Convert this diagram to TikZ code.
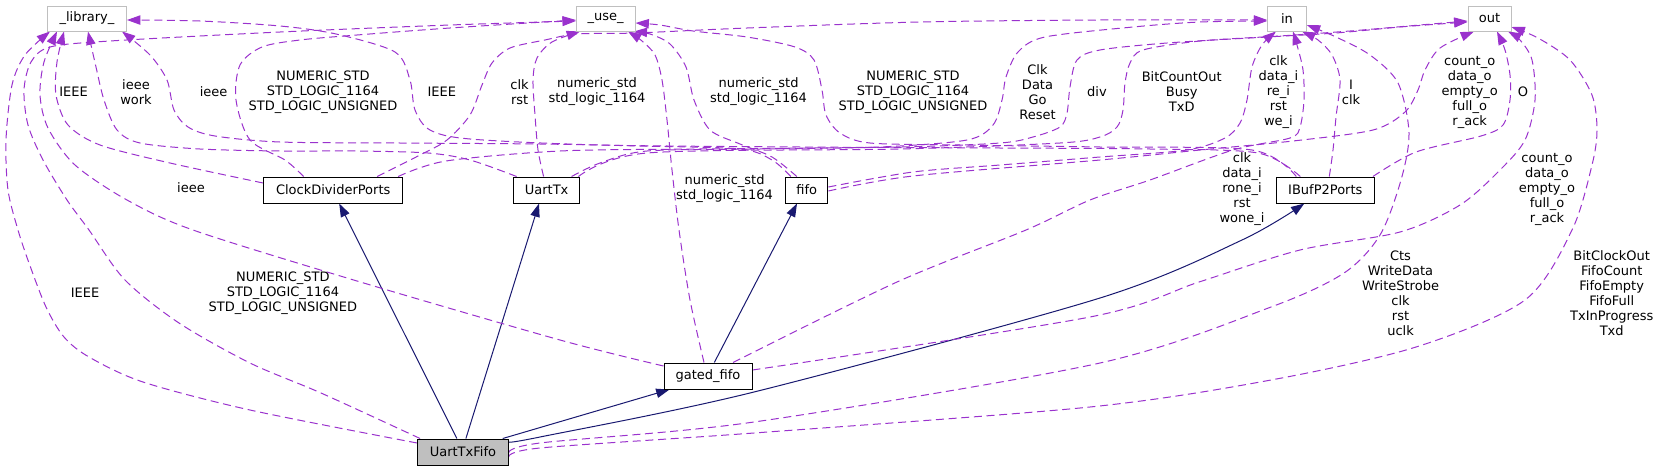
\documentclass[tikz,border=0pt]{standalone}
\usepackage{fontspec}
\setmainfont{DejaVu Sans}
\usetikzlibrary{arrows.meta,calc}
\definecolor{depc}{HTML}{9A32CD}
\definecolor{inhc}{HTML}{191970}
\definecolor{extc}{HTML}{BFBFBF}
\definecolor{utfc}{HTML}{BFBFBF}
\newcommand\dxfont{\fontsize{9.75pt}{11.25pt}\selectfont}
\pgfdeclarelayer{edges}
\pgfsetlayers{edges,main}
\tikzset{
  dep/.style={draw=depc, line width=0.75pt, dash pattern=on 6pt off 3.5pt,
    -{Triangle[length=10pt,width=7pt]}},
  inh/.style={draw=inhc, line width=0.75pt, -{Triangle[length=10pt,width=7pt]}},
  lbl/.style={font=\dxfont, align=center, inner sep=0pt, text=black},
  extbox/.style={draw=extc, line width=0.75pt, fill=white, inner sep=0pt,
    minimum height=18.75pt, font=\dxfont},
  clsbox/.style={draw=black, line width=0.75pt, fill=white, inner sep=0pt,
    minimum height=19.5pt, font=\dxfont},
}
\begin{document}
\begin{tikzpicture}[x=0.75pt,y=-0.75pt]
\useasboundingbox (0,0) rectangle (1658,471);
% nodes
\node[extbox, minimum width=59.25pt] (lib) at (87,18.5) {\_library\_};
\node[extbox, minimum width=44pt] (use) at (605.7,18.5) {\_use\_};
\node[extbox, minimum width=29pt] (nin) at (1287,18.5) {in};
\node[extbox, minimum width=32.25pt] (nout) at (1489.5,18.5) {out};
\node[clsbox, minimum width=104.5pt] (cdp) at (333.2,190) {ClockDividerPorts};
\node[clsbox, minimum width=50pt] (utx) at (546.6,190) {UartTx};
\node[clsbox, minimum width=31.65pt] (fifo) at (806.8,190) {fifo};
\node[clsbox, minimum width=73.65pt] (ibuf) at (1325.3,190) {IBufP2Ports};
\node[clsbox, minimum width=66pt] (gf) at (708,376) {gated\_fifo};
\node[clsbox, minimum width=68pt, fill=utfc] (utf) at (462.9,452) {UartTxFifo};
% labels
\node[lbl] (l1) at (73.5,92) {IEEE};
\node[lbl] (l2) at (136,92) {ieee\\work};
\node[lbl] (l3) at (213.6,92) {ieee};
\node[lbl] (l4) at (323,92) {NUMERIC\_STD\\STD\_LOGIC\_1164\\STD\_LOGIC\_UNSIGNED};
\node[lbl] (l5) at (441.8,92) {IEEE};
\node[lbl] (l6) at (519.6,92) {clk\\rst};
\node[lbl] (l7) at (597,92) {numeric\_std\\std\_logic\_1164};
\node[lbl] (l8) at (758.6,92) {numeric\_std\\std\_logic\_1164};
\node[lbl] (l9) at (913,92) {NUMERIC\_STD\\STD\_LOGIC\_1164\\STD\_LOGIC\_UNSIGNED};
\node[lbl] (l10) at (1037.5,92) {Clk\\Data\\Go\\Reset};
\node[lbl] (l11) at (1097,92) {div};
\node[lbl] (l12) at (1181.7,92) {BitCountOut\\Busy\\TxD};
\node[lbl] (l13) at (1278.4,92) {clk\\data\_i\\re\_i\\rst\\we\_i};
\node[lbl] (l14) at (1351,92) {I\\clk};
\node[lbl] (l15) at (1469.7,92) {count\_o\\data\_o\\empty\_o\\full\_o\\r\_ack};
\node[lbl] (l16) at (1523,92) {O};
\node[lbl] (l17) at (191,188) {ieee};
\node[lbl] (l18) at (724.6,189) {numeric\_std\\std\_logic\_1164};
\node[lbl] (l19) at (1242,189) {clk\\data\_i\\rone\_i\\rst\\wone\_i};
\node[lbl] (l20) at (1547,189) {count\_o\\data\_o\\empty\_o\\full\_o\\r\_ack};
\node[lbl] (l21) at (85,293) {IEEE};
\node[lbl] (l22) at (282.9,293) {NUMERIC\_STD\\STD\_LOGIC\_1164\\STD\_LOGIC\_UNSIGNED};
\node[lbl] (l23) at (1400.5,293) {Cts\\WriteData\\WriteStrobe\\clk\\rst\\uclk};
\node[lbl] (l24) at (1611.7,293) {BitClockOut\\FifoCount\\FifoEmpty\\FifoFull\\TxInProgress\\Txd};
\begin{pgfonlayer}{edges}
% inheritance / usage (solid)
\draw[inh] ($(utf.north)+(-6,0)$) -- ($(cdp.south)+(6,0)$);
\draw[inh] ($(utf.north)+(3,0)$) -- ($(utx.south)+(-7.6,0)$);
\draw[inh] ($(utf.north east)+(-6,0)$) -- ($(gf.south west)+(6,0)$);
\draw[inh] plot[smooth] coordinates {($(utf.east)+(0,-10)$) (540,437) (754,392) (1100,298) (1242,240) ($(ibuf.south)+(-21,0)$)};
\draw[inh] ($(gf.north)+(6.3,0)$) -- ($(fifo.south)+(-9.8,0)$);
% to _library_
\draw[dep] plot[smooth] coordinates {($(utf.west)+(0,-9)$) (250,410) (143,382) (89,357) (64,337) (46,307) (29,263) (18,230) (8,190) (6,140) (12,85) (25,55) ($(lib.south)+(-37,0)$)};
\draw[dep] plot[smooth] coordinates {($(gf.west)+(0,-10)$) (560,340) (357,281) (193,230) (127,200) (75,165) (48,128) (40,95) (44,62) ($(lib.south)+(-30,0)$)};
\draw[dep] plot[smooth] coordinates {($(cdp.west)+(0,-7)$) (170,163) (100,145) (68,125) (56,95) (57,62) ($(lib.south)+(-23,0)$)};
\draw[dep] plot[smooth] coordinates {($(utx.north)+(-30,0)$) (470,160) (428,153) (357,151) (280,151) (200,149) (140,143) (117,130) (104,100) (96,67) ($(lib.south)+(1,0)$)};
\draw[dep] plot[smooth] coordinates {($(fifo.north)+(-16,0)$) (772,160) (740,149) (640,146) (540,144) (400,143) (280,142) (215,136) (188,127) (174,110) (167,80) (150,55) ($(lib.south)+(35,0)$)};
\draw[dep] plot[smooth] coordinates {($(ibuf.north)+(-25,0)$) (1258,153) (1150,149) (1000,148) (800,147) (600,145) (470,139) (430,130) (415,110) (410,80) (395,52) (336,34) (280,26) (200,21) ($(lib.east)+(0,1.5)$)};
% to _use_
\draw[dep] plot[smooth] coordinates {($(utf.north west)+(3,0)$) (321,393) (250,363) (179,323) (125,280) (89,230) (67,200) (43,160) (28,125) (24,90) (31,62) (50,47) (110,41) (280,32) (450,25) ($(use.west)+(0,2.5)$)};
\draw[dep] plot[smooth] coordinates {($(cdp.north)+(-29.6,0)$) (285,160) (250,140) (236,100) (240,65) (262,47) (300,40) (357,35) (450,28) ($(use.west)+(0,1.5)$)};
\draw[dep] plot[smooth] coordinates {($(utx.north)+(-3,0)$) (538,150) (535,115) (533,80) (537,58) (552,42) ($(use.south)+(-25.7,0)$)};
\draw[dep] plot[smooth] coordinates {($(fifo.north)+(-10,0)$) (772,157) (740,144) (710,130) (694,100) (686,67) (670,44) (650,34) ($(use.south)+(28,0)$)};
\draw[dep] plot[smooth] coordinates {($(gf.north)+(-4,0)$) (690,300) (679,230) (672,170) (667,120) (662,80) (655,55) (642,41) ($(use.south)+(22.3,0)$)};
\draw[dep] plot[smooth] coordinates {($(ibuf.north)+(-29,0)$) (1252,150) (1100,147) (960,145) (870,143) (840,133) (826,115) (822,90) (814,60) (795,47) (747,37) (693,31) (660,25) ($(use.east)+(0,4.5)$)};
% to in
\draw[dep] plot[smooth] coordinates {($(cdp.north)+(44,0)$) (420,155) (447,140) (470,115) (482,85) (492,63) (510,48) (545,40) (577,34) (635,33) (747,28) (920,22) (1100,20) ($(nin.west)+(0,1.5)$)};
\draw[dep] plot[smooth] coordinates {($(utx.north)+(25,0)$) (600,163) (647,151) (760,149) (880,147) (967,140) (993,125) (1002,100) (1006,77) (1018,52) (1045,37) (1133,27) (1200,22) ($(nin.west)+(0,2.5)$)};
\draw[dep] plot[smooth] coordinates {($(fifo.east)+(0,-3)$) (913,172) (1000,165) (1100,157) (1187,150) (1225,138) (1240,123) (1247,100) (1252,67) (1262,45) ($(nin.south)+(-11,0)$)};
\draw[dep] plot[smooth] coordinates {($(gf.north)+(25,0)$) (897,282) (1026,230) (1090,200) (1150,180) (1233,150) (1290,138) (1300,127) (1304,100) (1303,70) (1297,45) ($(nin.south)+(6,0)$)};
\draw[dep] plot[smooth] coordinates {($(ibuf.north)+(4,0)$) (1333,150) (1336,117) (1340,80) (1332,55) (1318,40) ($(nin.south)+(15,0)$)};
\draw[dep] plot[smooth] coordinates {($(utf.east)+(0,1)$) (540,443) (754,422) (1100,363) (1271,307) (1344,273) (1380,235) (1401,180) (1409,133) (1398,83) (1370,55) (1336,37) ($(nin.east)+(0,6.5)$)};
% to out
\draw[dep] plot[smooth] coordinates {($(cdp.north)+(65,0)$) (446,161) (560,151) (700,149) (900,147) (1000,143) (1033,137) (1060,127) (1067,113) (1070,87) (1077,60) (1100,50) (1167,43) (1267,37) (1336,33) (1400,27) ($(nout.west)+(0,3.5)$)};
\draw[dep] plot[smooth] coordinates {($(utx.north east)+(-2,0)$) (647,153) (900,149) (1060,143) (1100,137) (1117,127) (1123,110) (1125,83) (1130,63) (1143,50) (1200,41) (1280,36) (1350,31) (1420,25) ($(nout.west)+(0,2.5)$)};
\draw[dep] plot[smooth] coordinates {($(fifo.east)+(0,1)$) (913,176) (1100,160) (1200,150) (1293,141) (1373,130) (1405,112) (1418,90) (1425,70) (1440,48) ($(nout.south)+(-15.5,0)$)};
\draw[dep] plot[smooth] coordinates {($(ibuf.north east)+(-2,0)$) (1416,152) (1481,136) (1503,125) (1510,100) (1510,75) (1505,50) ($(nout.south)+(7.5,0)$)};
\draw[dep] plot[smooth] coordinates {($(gf.east)+(0,-6)$) (1090,317) (1199,282) (1300,250) (1400,232) (1460,205) (1500,170) (1525,140) (1535,100) (1532,60) (1520,40) ($(nout.south)+(18.5,0)$)};
\draw[dep] plot[smooth] coordinates {($(utf.east)+(0,5)$) (540,448) (754,433) (1090,407) (1271,380) (1416,347) (1525,300) (1572,230) (1592,165) (1597,130) (1592,95) (1570,60) (1538,38) ($(nout.east)+(0,8.5)$)};
\end{pgfonlayer}
\end{tikzpicture}
\end{document}
